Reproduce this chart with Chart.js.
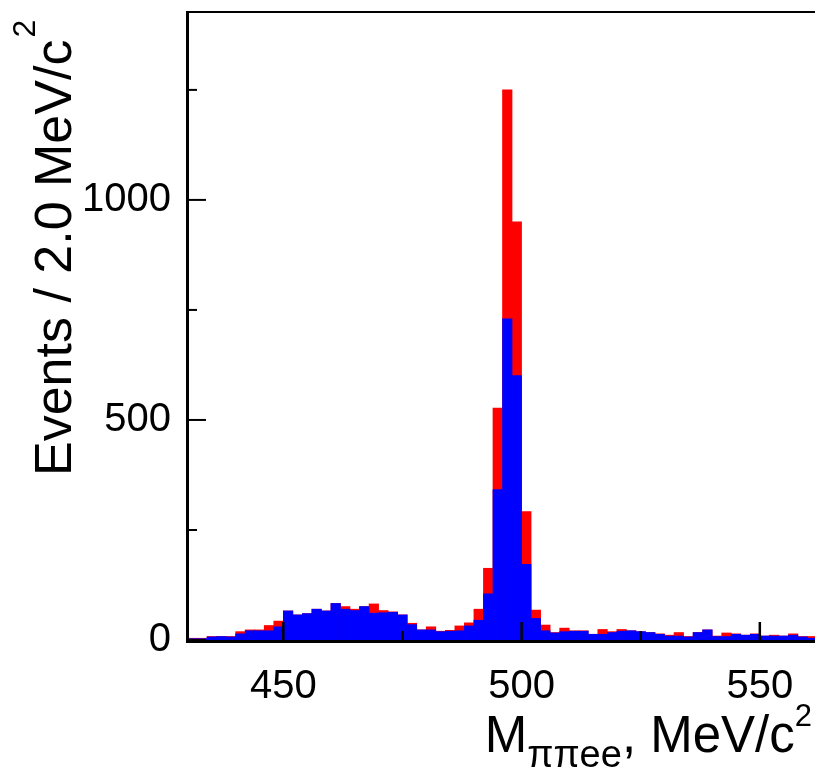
<!DOCTYPE html>
<html>
<head>
<meta charset="utf-8">
<script src="https://cdn.jsdelivr.net/npm/chart.js@4.4.1/dist/chart.umd.min.js"></script>
<style>
  html, body { margin: 0; padding: 0; overflow: hidden; background: #fff; width: 815px; height: 775px; }
  canvas { display: block; }
</style>
</head>
<body>
<canvas id="c" width="830" height="775"></canvas>
<script>
// M(pi pi e e) histogram, 2 MeV/c^2 bins: lower edge of each bin
const binLowEdges = [
  430, 432, 434, 436, 438, 440, 442, 444, 446, 448,
  450, 452, 454, 456, 458, 460, 462, 464, 466, 468,
  470, 472, 474, 476, 478, 480, 482, 484, 486, 488,
  490, 492, 494, 496, 498, 500, 502, 504, 506, 508,
  510, 512, 514, 516, 518, 520, 522, 524, 526, 528,
  530, 532, 534, 536, 538, 540, 542, 544, 546, 548,
  550, 552, 554, 556, 558, 560
];
const binWidth = 2;

// all candidates (red)
const allEvents = [
  4, 4, 8, 8, 8, 19, 23, 23, 33, 43,
  66, 57, 60, 70, 66, 83, 76, 70, 76, 82,
  67, 64, 57, 38, 23, 30, 20, 22, 32, 39,
  70, 163, 527, 1250, 950, 292, 68, 34, 17, 27,
  21, 21, 13, 24, 19, 24, 21, 19, 17, 14,
  11, 17, 8, 17, 23, 9, 16, 14, 11, 14,
  9, 11, 9, 14, 8, 8
];

// selected candidates (blue)
const selectedEvents = [
  3, 3, 7, 8, 7, 14, 21, 21, 21, 30,
  66, 57, 60, 70, 66, 83, 70, 67, 76, 61,
  62, 63, 57, 35, 23, 23, 19, 20, 21, 32,
  45, 105, 342, 730, 601, 172, 49, 21, 16, 19,
  20, 20, 13, 13, 17, 20, 21, 19, 17, 13,
  9, 9, 7, 17, 23, 8, 8, 13, 11, 13,
  9, 9, 9, 11, 7, 4
];

const xRange = [430, 562];
const yRange = [0, 1427];
const xMajorTicks = [450, 500, 550];
const xMinorTicks = [475, 525];
const yMajorTicks = [0, 500, 1000];
const yMinorTicks = [250, 750, 1250];

const FONT = "'Liberation Sans', Arial, Helvetica, sans-serif";

function toPoints(values) {
  return binLowEdges.map((lo, i) => ({ x: lo + binWidth / 2, y: values[i] }));
}

// frame, inward tick marks and axis titles in the ROOT style
const framePlugin = {
  id: 'frameAndTitles',
  afterDatasetsDraw(chart) {
    const { ctx, chartArea: a, scales } = chart;
    const xs = scales.x, ys = scales.y;
    ctx.save();
    ctx.strokeStyle = '#000';
    ctx.lineCap = 'butt';

    // tick marks pointing into the frame
    ctx.lineWidth = 2.5;
    const xTick = (v, len) => {
      const px = xs.getPixelForValue(v);
      ctx.beginPath(); ctx.moveTo(px, a.bottom); ctx.lineTo(px, a.bottom - len); ctx.stroke();
    };
    xMajorTicks.forEach(v => xTick(v, 18));
    xMinorTicks.forEach(v => xTick(v, 9));
    ctx.lineWidth = 2;
    const yTick = (v, len) => {
      const py = ys.getPixelForValue(v);
      ctx.beginPath(); ctx.moveTo(a.left, py); ctx.lineTo(a.left + len, py); ctx.stroke();
    };
    yMajorTicks.forEach(v => yTick(v, 18));
    yMinorTicks.forEach(v => yTick(v, 9));

    // frame
    ctx.lineWidth = 2;
    ctx.beginPath(); ctx.moveTo(a.left, a.top); ctx.lineTo(a.right, a.top); ctx.lineTo(a.right, a.bottom); ctx.stroke();
    ctx.lineWidth = 3;
    ctx.beginPath(); ctx.moveTo(a.left - 0.5, a.top - 1); ctx.lineTo(a.left - 0.5, a.bottom + 3); ctx.stroke();
    ctx.beginPath(); ctx.moveTo(a.left - 2, a.bottom + 1.5); ctx.lineTo(a.right, a.bottom + 1.5); ctx.stroke();

    ctx.fillStyle = '#000';
    ctx.textAlign = 'left';
    ctx.textBaseline = 'alphabetic';

    // y-axis title, rotated
    ctx.save();
    ctx.translate(71, 476);
    ctx.rotate(-Math.PI / 2);
    ctx.font = `52px ${FONT}`;
    const yMain = 'Events / 2.0 MeV/c';
    ctx.fillText(yMain, 0, 0);
    const wy = ctx.measureText(yMain).width;
    ctx.font = `32px ${FONT}`;
    ctx.fillText('2', wy + 2, -36);
    ctx.restore();

    // x-axis title, right aligned at the end of the axis
    const parts = [
      { t: 'M', size: 51, dy: 0 },
      { t: '\u03c0\u03c0ee', size: 38, dy: 15 },
      { t: ', MeV/c', size: 51, dy: 0 },
      { t: '2', size: 31, dy: -26 }
    ];
    let total = 0;
    parts.forEach(p => { ctx.font = `${p.size}px ${FONT}`; p.w = ctx.measureText(p.t).width; total += p.w; });
    let x = 812 - total;
    const base = 752;
    parts.forEach(p => { ctx.font = `${p.size}px ${FONT}`; ctx.fillText(p.t, x, base + p.dy); x += p.w; });

    ctx.restore();
  }
};

new Chart(document.getElementById('c'), {
  type: 'bar',
  data: {
    datasets: [
      { label: 'selected', data: toPoints(selectedEvents), backgroundColor: '#0000ff', order: 0 },
      { label: 'all', data: toPoints(allEvents), backgroundColor: '#ff0000', order: 1 }
    ]
  },
  options: {
    responsive: false,
    animation: false,
    events: [],
    layout: { padding: { left: 0, top: 12, right: 13, bottom: 0 } },
    datasets: { bar: { barPercentage: 1, categoryPercentage: 1, grouped: false, borderWidth: 0 } },
    plugins: { legend: { display: false }, tooltip: { enabled: false } },
    scales: {
      x: {
        type: 'linear',
        min: xRange[0], max: xRange[1],
        offset: false,
        afterFit(s) { s.height = 135; s.paddingLeft = 0; s.paddingRight = 0; },
        afterBuildTicks(s) { s.ticks = xMajorTicks.map(v => ({ value: v })); },
        grid: { display: false, drawTicks: false, offset: false },
        border: { display: false },
        ticks: { color: '#000', font: { family: FONT, size: 40 }, padding: 23, maxRotation: 0, autoSkip: false,
                 callback: v => String(v) }
      },
      y: {
        type: 'linear',
        min: yRange[0], max: yRange[1],
        afterFit(s) { s.width = 188; s.paddingTop = 0; s.paddingBottom = 0; },
        afterBuildTicks(s) { s.ticks = yMajorTicks.map(v => ({ value: v })); },
        grid: { display: false, drawTicks: false },
        border: { display: false },
        ticks: { color: '#000', font: { family: FONT, size: 40 }, padding: 17, autoSkip: false,
                 callback: v => String(v) }
      }
    }
  },
  plugins: [framePlugin]
});
</script>
</body>
</html>
